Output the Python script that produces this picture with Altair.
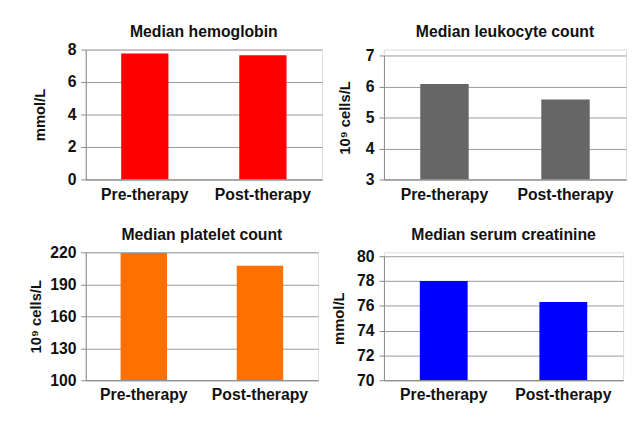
import altair as alt
import pandas as pd

categories = ["Pre-therapy", "Post-therapy"]
hemoglobin = [7.75, 7.65]
leukocyte = [6.08, 5.58]
platelet = [219.3, 207.4]
creatinine = [78.0, 76.3]

FONT = "Liberation Sans"


def panel(title, values, ytitle, domain, ticks, color, width, height, top, title_x):
    df = pd.DataFrame({"cat": categories, "val": values})
    return alt.Chart(df, title=alt.TitleParams(title, fontSize=16, fontWeight="bold",
                                               font=FONT, color="#111", offset=2 + top)).mark_bar(
        color=color, clip=True
    ).encode(
        x=alt.X("cat:N", sort=categories,
                scale=alt.Scale(paddingInner=0.6, paddingOuter=0.3),
                axis=alt.Axis(title=None, labelAngle=0, ticks=False, labelPadding=7,
                              labelFontSize=16, labelFontWeight="bold", labelFont=FONT,
                              labelColor="#111", domainColor="#888")),
        y=alt.Y("val:Q", scale=alt.Scale(domain=domain, zero=False, nice=False, range=[height, top]),
                axis=alt.Axis(title=ytitle, values=ticks, titleFontSize=15, titleFontWeight="bold",
                              titleFont=FONT, titleColor="#111", titleX=title_x,
                              labelFontSize=16, labelFontWeight="bold", labelFont=FONT,
                              labelColor="#111", labelPadding=5, tickSize=5, tickColor="#888",
                              domainColor="#888", gridColor="#999", format="d")),
        y2=alt.Y2Datum(domain[0]),
    ).properties(width=width, height=height)


p1 = panel("Median hemoglobin", hemoglobin, "mmol/L", [0, 8], [0, 2, 4, 6, 8], "#FF0000", 240, 132, 0, -39)
p2 = panel("Median leukocyte count", leukocyte, "10⁹ cells/L", [3, 7], [3, 4, 5, 6, 7], "#666666", 246, 132, 6, -31.5)
p3 = panel("Median platelet count", platelet, "10⁹ cells/L", [100, 220], [100, 130, 160, 190, 220], "#FF7000", 236, 130, 0, -42.5)
p4 = panel("Median serum creatinine", creatinine, "mmol/L", [70, 80], [70, 72, 74, 76, 78, 80], "#0000FF", 243, 130, 4, -38)

chart = alt.concat(p1, p2, p3, p4, columns=2, spacing={"row": 23, "column": 8}).configure_view(
    stroke=None
).configure(background="white", padding={"left": 20, "top": 12, "right": 2, "bottom": 2})

chart.save("out.html", embed_options={"renderer": "svg", "actions": False})
